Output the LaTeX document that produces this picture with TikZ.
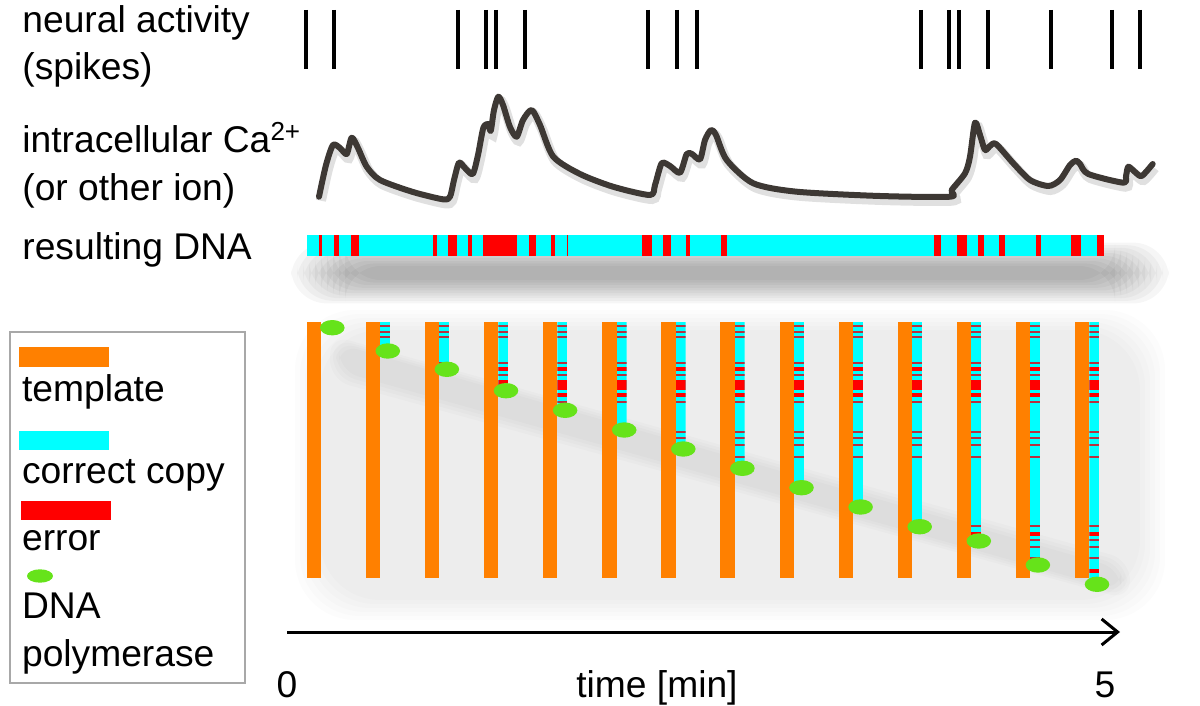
\documentclass[tikz,border=0pt]{standalone}
\usepackage{fontspec}
\setmainfont{Liberation Sans}
\usetikzlibrary{positioning, arrows.meta}
\definecolor{tmplorange}{HTML}{FF8000}
\definecolor{copycyan}{HTML}{00FFFF}
\definecolor{errred}{HTML}{FF0000}
\definecolor{errdark}{HTML}{B83040}
\definecolor{polygreen}{HTML}{66E31A}
\definecolor{cacurve}{HTML}{3D3834}
\definecolor{boxgray}{HTML}{A8A8A8}

\begin{document}
\begin{tikzpicture}[x=0.5pt, y=-0.5pt, >={Straight Barb[length=8pt, width=13pt]}]
    % Styles
    \tikzstyle{lbl} = [anchor=base west, inner sep=0pt, font=\fontsize{18.6}{23}\selectfont]
    \tikzstyle{axlbl} = [anchor=base, inner sep=0pt, font=\fontsize{18.6}{23}\selectfont]
    \tikzstyle{spike} = [line width=2pt, black]
    \tikzstyle{haze} = [fill=black, opacity=0.012, rounded corners=30]
    \tikzstyle{thinerr} = [fill=errdark]
    \tikzstyle{polymerase} = [fill=polygreen]

    \useasboundingbox (0,0) rectangle (1200,706);

    % Labels on the left
    \node [lbl] (neural) at (22,33) {neural activity};
    \node [lbl] (spikes) at (22,80) {(spikes)};
    \node [lbl] (calcium) at (22,153) {intracellular Ca\textsuperscript{2+}};
    \node [lbl] (otherion) at (22,200) {(or other ion)};
    \node [lbl] (resdna) at (22,259) {resulting DNA};

    % Spike train
    \foreach \s in {305.7,334.3,457.7,486.3,496,525,648.3,676.7,697.3,921,949.3,959.3,987.7,1051,1111.7,1140}
        \draw [spike] (\s,10) -- (\s,69);

    % Calcium trace
    \draw [cacurve, line width=3pt, line join=round, line cap=round,
           preaction={draw, black, opacity=0.12, line width=5pt, transform canvas={shift={(1pt,-2pt)}}}]
        plot [smooth, tension=0.45] coordinates {
        (319,196.7) (326,165) (333,145) (340,148) (346.7,154) (351.7,137.7) (358,148)
        (366.7,166.7) (380,180) (413,192) (443,199.3) (450,196.7) (454,180) (459,162.7)
        (465,168) (472.7,174) (478,155) (483.3,128) (488.3,124) (490.7,131) (494,110)
        (498.3,96.7) (503,105) (510,127) (516.7,136.7) (523,120) (531.7,110) (540,125)
        (553.3,156.7) (580,174) (613,186.7) (650,195) (655,185) (661.7,163.3) (670,166)
        (680,172.7) (686.7,154) (692,154) (700,159.3) (705,140) (711,130) (716,135)
        (726.7,160) (753.3,183.3) (796.7,191.7) (880,196) (950,196.7) (951.7,190)
        (965,173.3) (970,156.7) (975,122.7) (980,135) (985,150) (990,146) (996,144)
        (1013.3,163.3) (1030,180) (1048.3,186) (1060,180) (1070,165) (1076,160.7)
        (1080,164) (1088.3,174) (1123.3,182.7) (1126,176) (1128.3,166.7) (1135,172)
        (1141.7,176) (1152.7,164)};

    % Resulting DNA with its shadow
    \foreach \k in {0,...,9}
        \fill [haze, opacity=0.035, rounded corners=18] (345-\k*6,266-\k*2.6) rectangle (1115+\k*6,280+\k*2.6);
    \fill [copycyan] (307.3,235) rectangle (1104.3,255.7);
    \foreach \a/\b in {319/322.3,334/339.3,351/359,432.7/436.7,448/456.7,468.3/471.7,
                       483.3/517.3,528.7/535.7,551/555,566.7/568.3,642.3/652.3,663.3/670.7,
                       686.3/690.3,721/727,934/941,957/967,978.3/983.7,999.3/1005.3,
                       1036/1040.7,1071/1081,1097/1104.3}
        \fill [errred] (\a,235) rectangle (\b,255.7);

    % Shadow under the copies
    \foreach \k in {0,...,5}
        \fill [haze] (320-\k*5,330-\k*4) rectangle (1140+\k*5,600+\k*4);
    \foreach \k in {0,...,3}
        \fill [haze, opacity=0.015, rounded corners=10] (330+\k*3,335+\k*3) -- (1130-\k*3,560+\k*3)
            -- (1130-\k*3,600-\k*3) -- (330+\k*3,380-\k*3) -- cycle;

    % Template, copy and polymerase at each time step
    \foreach \i/\py in {0/327.7,1/351,2/369.3,3/390.7,4/410.3,5/430,6/449,7/468.3,
                        8/487.7,9/507,10/526.7,11/541,12/565,13/584.3} {
        \pgfmathsetmacro{\ox}{306.7+59.1*\i}
        \fill [tmplorange] (\ox,322.3) rectangle (\ox+14.3,577.7);
        \ifnum\i>0
            \begin{scope}
                \clip (\ox+14.3,322.3) rectangle (\ox+24.3,\py);
                \fill [copycyan] (\ox+14.3,322.3) rectangle (\ox+24.3,\py);
                \foreach \e in {326,331.7,337.3,363.3,374.7,401.7,432.3,438.3,445,456.7,526,540,547.3,558.3}
                    \fill [thinerr] (\ox+14.3,\e-1) rectangle (\ox+24.3,\e+1);
                \foreach \e in {369,395,534,571}
                    \fill [errred] (\ox+14.3,\e-1.6) rectangle (\ox+24.3,\e+1.6);
                \fill [errred] (\ox+14.3,380) rectangle (\ox+24.3,390);
            \end{scope}
            \fill [polymerase] (\ox+22,\py) ellipse (12.3 and 7.7);
        \else
            \fill [polymerase] (\ox+25.6,\py) ellipse (12.3 and 7.7);
        \fi
    }

    % Time axis
    \coordinate (tstart) at (287,632);
    \coordinate (tend) at (1120,632);
    \draw [->, line width=1.5pt] (tstart) -- (tend);
    \node [axlbl] (tzero) at (287,697) {0};
    \node [axlbl] (tname) at (657,697) {time [min]};
    \node [axlbl] (tfive) at (1105,697) {5};

    % Legend
    \draw [boxgray, line width=1pt] (10,331.7) rectangle (245,682.7);
    \fill [tmplorange] (19.3,347.3) rectangle (109.3,366.7);
    \node [lbl] (legtmpl) at (21.7,401.7) {template};
    \fill [copycyan] (19.3,430.7) rectangle (109.3,450);
    \node [lbl] (legcopy) at (21.7,483) {correct copy};
    \fill [errred] (20.7,500.7) rectangle (110.7,520);
    \node [lbl] (legerr) at (21.7,550) {error};
    \fill [polymerase] (40,576) ellipse (13 and 6.7);
    \node [lbl] (legdna) at (21.7,618.3) {DNA};
    \node [lbl] (legpoly) at (21.7,666.7) {polymerase};
\end{tikzpicture}
\end{document}
